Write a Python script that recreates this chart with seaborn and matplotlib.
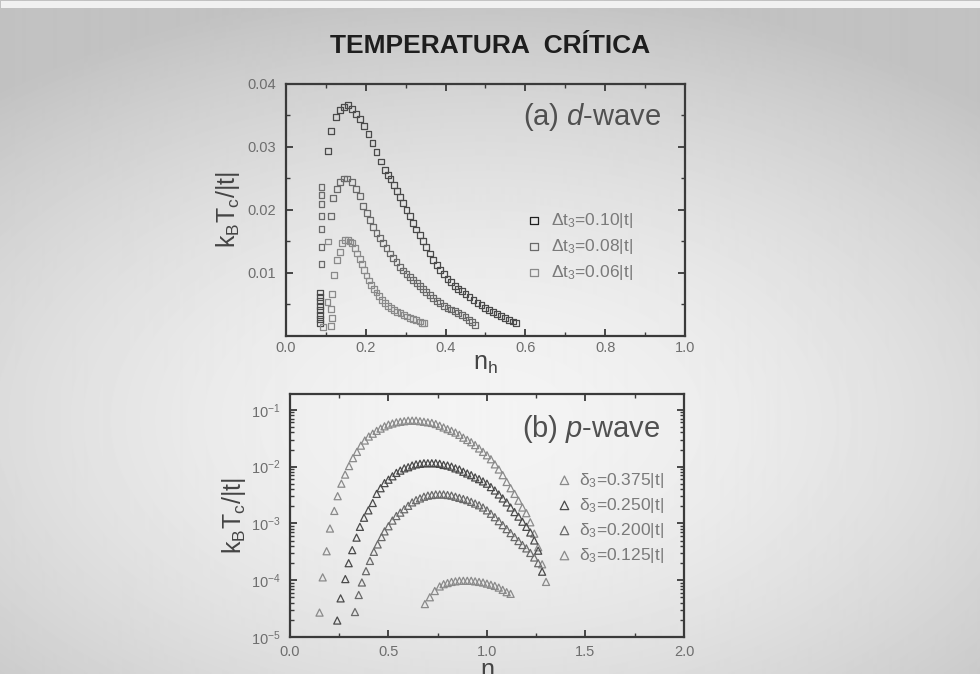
import numpy as np
import matplotlib
matplotlib.use('Agg')
import matplotlib.pyplot as plt
import seaborn as sns

# ---- (a) d-wave : kB Tc/|t| vs n_h ----
nh_010 = [0.085, 0.085, 0.085, 0.085, 0.085, 0.085, 0.085, 0.085,
          0.106, 0.114, 0.125, 0.135, 0.145, 0.155, 0.165, 0.175, 0.186, 0.196,
          0.207, 0.217, 0.227, 0.238, 0.248, 0.255, 0.262, 0.270, 0.278, 0.286,
          0.294, 0.302, 0.310, 0.319, 0.327, 0.335, 0.343, 0.352, 0.360, 0.369,
          0.378, 0.387, 0.396, 0.405, 0.414, 0.423, 0.432, 0.441, 0.450, 0.460,
          0.470, 0.480, 0.490, 0.500, 0.510, 0.520, 0.530, 0.540, 0.550, 0.560,
          0.570, 0.576]
tc_010 = [0.0020, 0.0027, 0.0034, 0.0041, 0.0048, 0.0055, 0.0062, 0.0069,
          0.0293, 0.0325, 0.0348, 0.0359, 0.0364, 0.0366, 0.0360, 0.0352, 0.0344, 0.0334,
          0.0320, 0.0306, 0.0292, 0.0277, 0.0263, 0.0256, 0.0249, 0.0240, 0.0230, 0.0221,
          0.0211, 0.0200, 0.0190, 0.0179, 0.0169, 0.0160, 0.0151, 0.0141, 0.0131, 0.0121,
          0.0113, 0.0105, 0.0098, 0.0091, 0.0085, 0.0080, 0.0075, 0.0071, 0.0067, 0.0062,
          0.0057, 0.0053, 0.0049, 0.0045, 0.0041, 0.0038, 0.0035, 0.0032, 0.0029, 0.0026,
          0.0023, 0.0021]

nh_008 = [0.089, 0.089, 0.089, 0.089, 0.089, 0.089, 0.089,
          0.113, 0.119, 0.127, 0.135, 0.145, 0.154, 0.165, 0.175, 0.185, 0.194,
          0.203, 0.211, 0.219, 0.227, 0.236, 0.244, 0.252, 0.260, 0.269, 0.277,
          0.286, 0.294, 0.302, 0.311, 0.319, 0.328, 0.336, 0.344, 0.352, 0.360,
          0.369, 0.378, 0.387, 0.396, 0.405, 0.414, 0.423, 0.432, 0.441, 0.450,
          0.459, 0.467, 0.474]
tc_008 = [0.0114, 0.0141, 0.0170, 0.0191, 0.0210, 0.0224, 0.0237,
          0.0191, 0.0219, 0.0234, 0.0245, 0.0250, 0.0250, 0.0245, 0.0234, 0.0222, 0.0207,
          0.0195, 0.0184, 0.0173, 0.0164, 0.0155, 0.0147, 0.0139, 0.0131, 0.0124, 0.0117,
          0.0110, 0.0104, 0.0098, 0.0093, 0.0089, 0.0084, 0.0079, 0.0074, 0.0070, 0.0065,
          0.0060, 0.0056, 0.0052, 0.0048, 0.0045, 0.0042, 0.0039, 0.0036, 0.0033, 0.0030,
          0.0026, 0.0022, 0.0018]

nh_006 = [0.093, 0.104, 0.106, 0.113, 0.115, 0.114, 0.116, 0.120, 0.129, 0.135,
          0.141, 0.148, 0.155, 0.160, 0.166, 0.173, 0.179, 0.185, 0.190, 0.196,
          0.202, 0.208, 0.214, 0.220, 0.227, 0.234, 0.241, 0.248, 0.255, 0.263,
          0.271, 0.279, 0.287, 0.295, 0.303, 0.311, 0.319, 0.327, 0.335, 0.342,
          0.346]
tc_006 = [0.0014, 0.0054, 0.0150, 0.0016, 0.0029, 0.0043, 0.0067, 0.0097, 0.0121, 0.0134,
          0.0147, 0.0152, 0.0152, 0.0150, 0.0147, 0.0140, 0.0131, 0.0122, 0.0114, 0.0105,
          0.0096, 0.0088, 0.0081, 0.0075, 0.0069, 0.0063, 0.0057, 0.0052, 0.0048, 0.0044,
          0.0041, 0.0038, 0.0036, 0.0034, 0.0031, 0.0029, 0.0027, 0.0025, 0.0023, 0.0021,
          0.0020]

d_labels = ['Δt$_3$=0.10|t|', 'Δt$_3$=0.08|t|', 'Δt$_3$=0.06|t|']

# ---- (b) p-wave : log10(kB Tc/|t|) vs n ----
n_375 = [0.150, 0.166, 0.186, 0.203, 0.225, 0.242, 0.261, 0.28, 0.30, 0.32, 0.34, 0.36,
         0.38, 0.40, 0.42, 0.44, 0.46, 0.48, 0.50, 0.52, 0.54, 0.56, 0.58, 0.60, 0.62,
         0.64, 0.66, 0.68, 0.70, 0.72, 0.74, 0.76, 0.78, 0.80, 0.82, 0.84, 0.86, 0.88,
         0.90, 0.92, 0.94, 0.96, 0.98, 1.00, 1.02, 1.04, 1.06, 1.08, 1.10, 1.12, 1.14,
         1.16, 1.18, 1.20, 1.22, 1.24, 1.26, 1.28, 1.30]
lg_375 = [-4.57, -3.95, -3.49, -3.09, -2.78, -2.52, -2.30, -2.14, -1.99, -1.85, -1.74, -1.63,
          -1.54, -1.47, -1.42, -1.37, -1.33, -1.29, -1.26, -1.24, -1.22, -1.21, -1.20, -1.19, -1.19,
          -1.19, -1.20, -1.21, -1.22, -1.23, -1.25, -1.28, -1.31, -1.34, -1.37, -1.40, -1.44, -1.49,
          -1.53, -1.57, -1.62, -1.68, -1.74, -1.80, -1.87, -1.96, -2.05, -2.15, -2.27, -2.38, -2.48,
          -2.60, -2.72, -2.82, -2.98, -3.18, -3.42, -3.72, -4.03]

n_250 = [0.240, 0.257, 0.281, 0.298, 0.316, 0.338, 0.355, 0.376, 0.398, 0.42, 0.44, 0.46,
         0.48, 0.50, 0.52, 0.54, 0.56, 0.58, 0.60, 0.62, 0.64, 0.66, 0.68, 0.70, 0.72, 0.74,
         0.76, 0.78, 0.80, 0.82, 0.84, 0.86, 0.88, 0.90, 0.92, 0.94, 0.96, 0.98, 1.00, 1.02,
         1.04, 1.06, 1.08, 1.10, 1.12, 1.14, 1.16, 1.18, 1.20, 1.22, 1.24, 1.26, 1.28]
lg_250 = [-4.71, -4.32, -3.98, -3.70, -3.47, -3.25, -3.06, -2.90, -2.77, -2.64, -2.48, -2.38,
          -2.29, -2.23, -2.17, -2.11, -2.07, -2.03, -2.01, -1.98, -1.96, -1.95, -1.94, -1.94, -1.94, -1.94,
          -1.95, -1.97, -1.98, -2.00, -2.03, -2.05, -2.09, -2.12, -2.15, -2.19, -2.22, -2.26, -2.30, -2.36,
          -2.42, -2.49, -2.56, -2.63, -2.72, -2.80, -2.88, -2.97, -3.06, -3.16, -3.30, -3.48, -3.85]

n_200 = [0.330, 0.349, 0.365, 0.386, 0.406, 0.426, 0.445, 0.465, 0.48, 0.50, 0.52, 0.54,
         0.56, 0.58, 0.60, 0.62, 0.64, 0.66, 0.68, 0.70, 0.72, 0.74, 0.76, 0.78, 0.80, 0.82,
         0.84, 0.86, 0.88, 0.90, 0.92, 0.94, 0.96, 0.98, 1.00, 1.02, 1.04, 1.06, 1.08, 1.10,
         1.12, 1.14, 1.16, 1.18, 1.20, 1.22, 1.24, 1.26]
lg_200 = [-4.56, -4.26, -4.04, -3.84, -3.66, -3.50, -3.37, -3.24, -3.14, -3.05, -2.95, -2.87,
          -2.81, -2.75, -2.69, -2.63, -2.59, -2.56, -2.53, -2.51, -2.50, -2.49, -2.49, -2.49, -2.50, -2.51,
          -2.53, -2.55, -2.57, -2.59, -2.62, -2.65, -2.68, -2.72, -2.77, -2.83, -2.89, -2.96, -3.03, -3.10,
          -3.17, -3.24, -3.31, -3.38, -3.44, -3.52, -3.60, -3.70]

n_125 = [0.685, 0.71, 0.735, 0.76, 0.78, 0.80, 0.82, 0.84, 0.86, 0.88, 0.90, 0.92, 0.94,
         0.96, 0.98, 1.00, 1.02, 1.04, 1.06, 1.08, 1.10, 1.12]
lg_125 = [-4.42, -4.30, -4.19, -4.11, -4.07, -4.05, -4.03, -4.02, -4.01, -4.01, -4.01, -4.01, -4.02,
          -4.03, -4.04, -4.06, -4.08, -4.10, -4.13, -4.17, -4.21, -4.24]

p_labels = ['δ$_3$=0.375|t|', 'δ$_3$=0.250|t|', 'δ$_3$=0.200|t|', 'δ$_3$=0.125|t|']

sns.set_style('ticks')
plt.rcParams['font.family'] = ['Liberation Sans', 'DejaVu Sans']
plt.rcParams['mathtext.fontset'] = 'custom'
plt.rcParams['mathtext.rm'] = 'Liberation Sans'
plt.rcParams['mathtext.it'] = 'Liberation Sans:italic'
plt.rcParams['mathtext.bf'] = 'Liberation Sans:bold'
plt.rcParams['mathtext.default'] = 'regular'

fig = plt.figure(figsize=(9.8, 6.74), dpi=100)

# slide background (light centre, greyer edges)
bg = fig.add_axes([0, 0, 1, 1], zorder=-10)
yy, xx = np.mgrid[0:674, 0:980]
r = np.sqrt(((xx - 480) / 680.0) ** 2 + ((yy - 420) / 400.0) ** 2)
shade = np.clip(0.955 - 0.17 * r ** 1.7, 0.76, 0.955)
bg.imshow(shade, cmap='gray', vmin=0, vmax=1, aspect='auto', interpolation='bilinear')
bg.add_patch(plt.Rectangle((0, 0), 980, 7, color='#f1f1f1', lw=0))
bg.axis('off')

fig.text(0.5, 0.932, 'TEMPERATURA  CRÍTICA', ha='center', va='center',
         fontsize=19, fontweight='bold', color='#1e1e1e')

spine_col = '#3a3a3a'
tick_col = '#6e6e6e'


def style_axes(ax):
    ax.set_facecolor('none')
    for sp in ax.spines.values():
        sp.set_color(spine_col)
        sp.set_linewidth(1.6)
    ax.tick_params(which='both', direction='in', top=True, right=True,
                   color=spine_col, labelcolor=tick_col, labelsize=10.5)
    ax.tick_params(which='major', length=5, width=1.3)
    ax.tick_params(which='minor', length=3, width=1.0)
    ax.tick_params(axis='y', pad=7)


# ---- panel (a) ----
ax1 = fig.add_axes([0.2918, 0.5015, 0.4071, 0.3739])
sq_cols = ['#4a4a4a', '#6a6a6a', '#8a8a8a']
for nx, ty, col, lab in zip([nh_010, nh_008, nh_006], [tc_010, tc_008, tc_006], sq_cols, d_labels):
    sns.scatterplot(x=nx, y=ty, ax=ax1, marker='s', s=18, facecolor='none',
                    edgecolor=col, linewidth=0.9, label=lab)
ax1.set_xlim(0, 1.0)
ax1.set_ylim(0, 0.04)
ax1.set_xticks([0.0, 0.2, 0.4, 0.6, 0.8, 1.0])
ax1.set_xticks(np.arange(0.1, 1.0, 0.2), minor=True)
ax1.set_yticks([0.01, 0.02, 0.03, 0.04])
ax1.set_yticks([0.005, 0.015, 0.025, 0.035], minor=True)
ax1.set_xticklabels(['0.0', '0.2', '0.4', '0.6', '0.8', '1.0'])
ax1.set_yticklabels(['0.01', '0.02', '0.03', '0.04'])
style_axes(ax1)
ax1.set_xlabel('n$_\\mathrm{h}$', fontsize=18, color='#444444', labelpad=-2)
ax1.set_ylabel('k$_\\mathrm{B}$T$_\\mathrm{c}$/|t|', fontsize=18, color='#444444', labelpad=4)
ax1.text(0.94, 0.87, '(a) $\\mathit{d}$-wave', transform=ax1.transAxes, ha='right',
         va='center', fontsize=21, color='#505050')
leg1 = ax1.legend(loc='center left', bbox_to_anchor=(0.56, 0.355), frameon=False,
                  fontsize=12.5, handlelength=1.0, handletextpad=0.5,
                  labelspacing=0.4, markerscale=1.3)
leg1.legend_handles[0].set_edgecolor('#202020')
for t in leg1.get_texts():
    t.set_color('#7a7a7a')

# ---- panel (b) ----
ax2 = fig.add_axes([0.2959, 0.0549, 0.4020, 0.3605])
tri_cols = ['#8a8a8a', '#4a4a4a', '#6a6a6a', '#8a8a8a']
for nx, lg, col, lab in zip([n_375, n_250, n_200, n_125], [lg_375, lg_250, lg_200, lg_125],
                            tri_cols, p_labels):
    sns.scatterplot(x=nx, y=10 ** np.array(lg), ax=ax2, marker='^', s=26, facecolor='none',
                    edgecolor=col, linewidth=0.9, label=lab)
ax2.set_yscale('log')
ax2.set_xlim(0, 2.0)
ax2.set_ylim(1e-5, 0.19)
ax2.set_xticks([0.0, 0.5, 1.0, 1.5, 2.0])
ax2.set_xticks([0.25, 0.75, 1.25, 1.75], minor=True)
ax2.set_xticklabels(['0.0', '0.5', '1.0', '1.5', '2.0'])
ax2.set_yticks([1e-5, 1e-4, 1e-3, 1e-2, 1e-1])
style_axes(ax2)
ax2.tick_params(axis='x', pad=6)
ax2.set_xlabel('n', fontsize=18, color='#444444', labelpad=-1)
ax2.set_ylabel('k$_\\mathrm{B}$T$_\\mathrm{c}$/|t|', fontsize=18, color='#444444', labelpad=2)
ax2.text(0.94, 0.855, '(b) $\\mathit{p}$-wave', transform=ax2.transAxes, ha='right',
         va='center', fontsize=21, color='#505050')
leg2 = ax2.legend(loc='center left', bbox_to_anchor=(0.635, 0.49), frameon=False,
                  fontsize=12.5, handlelength=1.0, handletextpad=0.35,
                  labelspacing=0.35, markerscale=1.2)
for t in leg2.get_texts():
    t.set_color('#7a7a7a')

fig.savefig('out.png', dpi=100)
